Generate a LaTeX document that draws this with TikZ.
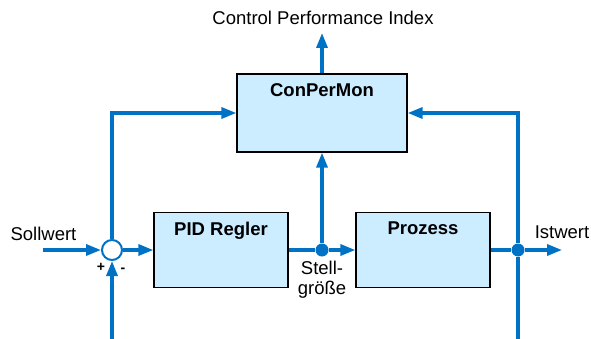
\documentclass[tikz,border=0pt]{standalone}
\usepackage{fontspec}
\setmainfont{Liberation Sans}
\usetikzlibrary{arrows.meta}
\definecolor{sigblue}{RGB}{0,114,198}
\definecolor{boxfill}{RGB}{204,236,255}

\begin{document}
\begin{tikzpicture}[x=1pt,y=-1pt,
  font=\fontsize{18.5}{20}\selectfont,
  every node/.append style={inner sep=0pt},
  block/.style={draw=black, line width=1.3pt, fill=boxfill,
    minimum width=134pt, minimum height=75pt},
  blocktitle/.style={label={[anchor=north, yshift=-10pt, font=\fontsize{18.5}{20}\selectfont\bfseries]north:#1}},
  sig/.style={draw=sigblue, line width=3.3pt},
  sigarrow/.style={sig, -{Triangle[length=15pt,width=11pt]}},
  junction/.style={circle, fill=sigblue, minimum size=13pt},
  summer/.style={circle, draw=sigblue, line width=2pt, fill=white, minimum size=20pt}]
\useasboundingbox (0,0) rectangle (591,339);

\node[block, blocktitle=ConPerMon, minimum width=170pt, minimum height=78pt] (conpermon) at (322,113) {};
\node[block, blocktitle=PID Regler] (pid) at (221,250) {};
\node[block, blocktitle=Prozess] (prozess) at (423,250) {};
\node[summer] (sum) at (112,250) {};
\node[junction] (stell) at (322,250) {};
\node[junction] (ist) at (518,250) {};

\coordinate (sollin) at (43,250);
\coordinate (istout) at (562,250);
\coordinate (cpiout) at (322,33);
\coordinate (fbleft) at (112,339);
\coordinate (fbright) at (518,339);

\node (soll) at (43.5,234) {Sollwert};
\node (istlabel) at (562,232) {Istwert};
\node (cpi) at (323,17.5) {Control Performance Index};
\node[align=center] (stelllabel) at (322,280) {Stell-\\größe};
\node[font=\fontsize{14}{14}\selectfont\bfseries] (plus) at (101,267) {+};
\node[font=\fontsize{14}{14}\selectfont\bfseries] (minus) at (123,270) {-};

\draw[sigarrow] (sollin) -- (sum);
\draw[sigarrow] (sum) -- (pid);
\draw[sig] (pid) -- (stell);
\draw[sigarrow] (stell) -- (prozess);
\draw[sigarrow] (stell) -- (conpermon);
\draw[sigarrow] (conpermon) -- (cpiout);
\draw[sig] (prozess) -- (ist);
\draw[sigarrow] (ist) -- (istout);
\draw[sig] (fbright) -- (ist);
\draw[sigarrow] (ist.north) |- (conpermon.east);
\draw[sigarrow] (fbleft) -- (sum);
\draw[sigarrow] (sum.north) |- (conpermon.west);
\end{tikzpicture}
\end{document}
